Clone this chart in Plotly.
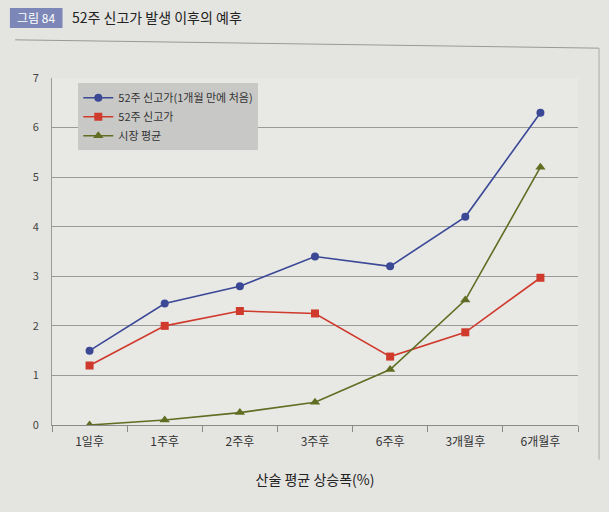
import plotly.graph_objects as go

categories = ["1일후", "1주후", "2주후", "3주후", "6주후", "3개월후", "6개월후"]
new_high_first = [1.5, 2.45, 2.8, 3.4, 3.2, 4.2, 6.3]
new_high = [1.2, 2.0, 2.3, 2.25, 1.38, 1.87, 2.97]
market_avg = [0.0, 0.1, 0.25, 0.46, 1.12, 2.52, 5.2]
y_ticks = [0, 1, 2, 3, 4, 5, 6, 7]

FONT = "Noto Sans CJK KR"
fig = go.Figure()
fig.add_trace(go.Scatter(x=categories, y=new_high_first, name="52주 신고가(1개월 만에 처음)",
                         mode="lines+markers", line=dict(color="#3a4896", width=1.6),
                         marker=dict(symbol="circle", size=8, color="#3a4896")))
fig.add_trace(go.Scatter(x=categories, y=new_high, name="52주 신고가",
                         mode="lines+markers", line=dict(color="#cf3a2c", width=1.6),
                         marker=dict(symbol="square", size=8, color="#cf3a2c")))
fig.add_trace(go.Scatter(x=categories, y=market_avg, name="시장 평균",
                         mode="lines+markers", line=dict(color="#5f6e22", width=1.6),
                         marker=dict(symbol="triangle-up", size=9, color="#5f6e22")))

fig.update_layout(
    width=609, height=512,
    margin=dict(l=52, r=31, t=78, b=87),
    paper_bgcolor="#e4e4e1", plot_bgcolor="#e8e8e5",
    font=dict(family=FONT, size=11, color="#333"),
    showlegend=True,
    legend=dict(x=0.05, y=0.985, xanchor="left", yanchor="top",
                bgcolor="#c8c8c6", borderwidth=0, font=dict(size=11, color="#333"),
                tracegroupgap=2),
    xaxis=dict(type="category", range=[-0.5, 6.5], showgrid=False,
               showline=True, linecolor="#8a8a8a", linewidth=1,
               ticks="outside", ticklen=6, tickcolor="#8a8a8a",
               tickson="boundaries", tickfont=dict(size=12, color="#333"),
               ticklabelstandoff=6,
               title=dict(text="산술 평균 상승폭(%)", font=dict(size=14, color="#222"), standoff=26)),
    yaxis=dict(range=[0, 7], tickvals=y_ticks, showgrid=True, gridcolor="#9a9a9a", gridwidth=1,
               showline=True, linecolor="#9a9a9a", zeroline=False,
               tickfont=dict(size=11, color="#444"), ticks="", ticklabelstandoff=10),
)
# title box and text
fig.add_shape(type="rect", xref="paper", yref="paper", x0=-0.08, x1=0.02, y0=1.144, y1=1.202,
              fillcolor="#7c87b8", line=dict(width=0))
fig.add_annotation(xref="paper", yref="paper", x=-0.03, y=1.173, text="그림 84", showarrow=False,
                   font=dict(family=FONT, size=12, color="white"), xanchor="center", yanchor="middle")
fig.add_annotation(xref="paper", yref="paper", x=0.035, y=1.175, text="52주 신고가 발생 이후의 예후",
                   showarrow=False, font=dict(family=FONT, size=14, color="#222"),
                   xanchor="left", yanchor="middle")
fig.add_shape(type="line", xref="paper", yref="paper", x0=-0.07, x1=1.04, y0=1.11, y1=1.086,
              line=dict(color="#999", width=1))
fig.add_shape(type="line", xref="paper", yref="paper", x0=1.04, x1=1.04, y0=1.086, y1=-0.1,
              line=dict(color="#aaa", width=1))
fig.write_html("out.html")
